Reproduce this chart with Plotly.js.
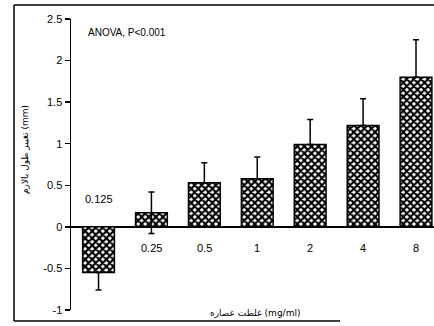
<!DOCTYPE html>
<html>
<head>
<meta charset="utf-8">
<script src="https://cdn.plot.ly/plotly-3.0.1.min.js"></script>
<style>html,body{margin:0;padding:0;background:#fff;overflow:hidden;}#chart{width:434px;height:326px;}</style>
</head>
<body>
<div id="chart"></div>
<script>
// Data
var categories = ['0.125', '0.25', '0.5', '1', '2', '4', '8'];
var means = [-0.55, 0.17, 0.53, 0.58, 0.99, 1.22, 1.80];
var errors = [0.21, 0.25, 0.24, 0.26, 0.30, 0.32, 0.45];
var yTickVals = [-1, -0.5, 0, 0.5, 1, 1.5, 2, 2.5];
var yTickText = ['-1', '-0.5', '0', '0.5', '1', '1.5', '2', '2.5'];
var xTitle = 'غلظت عصاره (mg/ml)';
var yTitle = 'تغییر طول بالارم (mm)';
var statText = 'ANOVA, P<0.001';

var FONT = 'Liberation Sans, Arial, DejaVu Sans, sans-serif';
var AFONT = 'DejaVu Sans, Liberation Sans, sans-serif';

// error bars pointing away from zero; the small positive bar shows both ends
var errUp = means.map(function (m, i) { return m >= 0 ? errors[i] : 0; });
var errDown = means.map(function (m, i) { return m < 0 ? errors[i] : (m - errors[i] < 0 ? errors[i] : 0); });
var xIdx = categories.map(function (c, i) { return i; });

var trace = {
  type: 'bar',
  x: xIdx,
  y: means,
  marker: {
    color: 'white',
    line: { color: 'black', width: 1.5 },
    pattern: { shape: 'x', fgcolor: 'black', bgcolor: 'white', size: 5, solidity: 0.65 }
  },
  error_y: {
    type: 'data', symmetric: false, array: errUp, arrayminus: errDown,
    color: 'black', thickness: 1.5, width: 3
  },
  hoverinfo: 'none'
};

var annotations = categories.map(function (c, i) {
  var above = means[i] < 0;
  return {
    x: i, xref: 'x', y: above ? 0.33 : -0.26, yref: 'y',
    text: c, showarrow: false,
    font: { family: FONT, size: 11, color: 'black' }
  };
});
annotations.push({
  x: 0.041, xref: 'paper', y: 0.955, yref: 'paper', xanchor: 'left', yanchor: 'middle',
  text: statText, showarrow: false, font: { family: FONT, size: 10, color: 'black' }
});
annotations.push({
  x: (255 - 71) / 363, xref: 'paper', y: (310 - 313) / 291, yref: 'paper',
  xanchor: 'center', yanchor: 'middle', text: xTitle, showarrow: false,
  font: { family: AFONT, size: 9, color: 'black' }
});
annotations.push({
  x: (25 - 71) / 363, xref: 'paper', y: (310 - 150) / 291, yref: 'paper',
  xanchor: 'center', yanchor: 'middle', textangle: -90, text: yTitle, showarrow: false,
  font: { family: AFONT, size: 9, color: 'black' }
});

function px(xp) { return (xp - 71) / 363; }
function py(yp) { return (310 - yp) / 291; }

var layout = {
  width: 434, height: 326,
  margin: { l: 71, r: 0, t: 19, b: 16, pad: 0 },
  paper_bgcolor: 'white', plot_bgcolor: 'white',
  showlegend: false,
  bargap: 0.4,
  xaxis: {
    type: 'linear', range: [-0.52, 6.34],
    showticklabels: false, showline: false, showgrid: false, zeroline: false, ticks: ''
  },
  yaxis: {
    range: [-1, 2.5], tickvals: yTickVals, ticktext: yTickText,
    showline: true, linecolor: 'black', linewidth: 1.5,
    ticks: 'outside', ticklen: 5, tickwidth: 1.5, tickcolor: 'black',
    showgrid: false,
    zeroline: true, zerolinecolor: 'black', zerolinewidth: 1.5,
    tickfont: { family: FONT, size: 11, color: 'black' }
  },
  shapes: [
    { type: 'line', xref: 'paper', yref: 'paper', x0: px(14), x1: px(434), y0: py(5), y1: py(5), line: { color: 'black', width: 1.5 } },
    { type: 'line', xref: 'paper', yref: 'paper', x0: px(14), x1: px(14), y0: py(5), y1: py(321), line: { color: 'black', width: 1.5 } },
    { type: 'line', xref: 'paper', yref: 'paper', x0: px(14), x1: px(340), y0: py(321), y1: py(321), line: { color: 'black', width: 1.5 } }
  ],
  annotations: annotations
};

Plotly.newPlot('chart', [trace], layout, { displayModeBar: false, staticPlot: true });
</script>
</body>
</html>
